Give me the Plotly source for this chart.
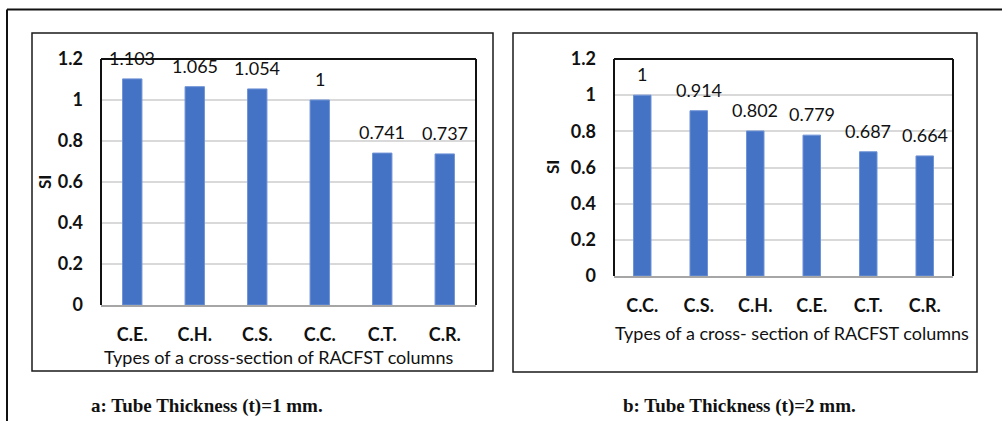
import plotly.graph_objects as go

# Strength index (SI) per cross-section type, for two tube thicknesses
sections_1mm = ["C.E.", "C.H.", "C.S.", "C.C.", "C.T.", "C.R."]
si_1mm = [1.103, 1.065, 1.054, 1, 0.741, 0.737]

sections_2mm = ["C.C.", "C.S.", "C.H.", "C.E.", "C.T.", "C.R."]
si_2mm = [1, 0.914, 0.802, 0.779, 0.687, 0.664]

y_ticks = [0, 0.2, 0.4, 0.6, 0.8, 1, 1.2]
y_tick_text = ["0", "0.2", "0.4", "0.6", "0.8", "1", "1.2"]

W, H = 1002, 421
BAR_BLUE = "#4472C4"
GRID = "#D9D9D9"
INK = "#111111"
SANS = "Lato, Carlito, Calibri, sans-serif"
SERIF = "Liberation Serif, Times New Roman, serif"


def px(x):
    return x / W


def py(y):
    return 1 - y / H


fig = go.Figure()

# panel layout in pixels: (plot left, plot right, plot top, plot bottom)
panels = [
    dict(cats=sections_1mm, vals=si_1mm, xa="x", ya="y", box=(101, 476, 59, 305)),
    dict(cats=sections_2mm, vals=si_2mm, xa="x2", ya="y2", box=(614, 953, 59, 276)),
]

for p in panels:
    fig.add_trace(go.Bar(
        x=p["cats"], y=p["vals"], xaxis=p["xa"], yaxis=p["ya"],
        marker=dict(color=BAR_BLUE, line=dict(width=1, color="#6F93D6")),
        showlegend=False, hoverinfo="x+y",
    ))
    for c, v in zip(p["cats"], p["vals"]):
        fig.add_annotation(
            x=c, y=v, xref=p["xa"], yref=p["ya"], text=f"{v:g}",
            showarrow=False, yanchor="middle", yshift=21,
            font=dict(family=SANS, size=18, color=INK),
        )

for i, p in enumerate(panels):
    l, r, t, b = p["box"]
    sfx = "" if i == 0 else "2"
    fig.update_layout(**{
        f"xaxis{sfx}": dict(
            domain=[px(l), px(r)], anchor=p["ya"], type="category",
            showline=True, linecolor="#A6A6A6", linewidth=2,
            ticks="", ticklabelstandoff=12, automargin=False,
            tickfont=dict(family=SANS, size=18, color=INK, weight="bold"),
            showgrid=False, zeroline=False, fixedrange=True,
        ),
        f"yaxis{sfx}": dict(
            domain=[py(b), py(t)], anchor=p["xa"], range=[0, 1.2],
            tickvals=y_ticks, ticktext=y_tick_text, ticks="",
            ticklabelstandoff=17, automargin=False,
            tickfont=dict(family=SANS, size=18, color=INK, weight="bold"),
            showline=False, zeroline=False, fixedrange=True,
            showgrid=True, gridcolor=GRID, gridwidth=2,
        ),
    })

shapes = []
black = dict(color="#111111", width=2)

# outer frame (top and left edges)
shapes.append(dict(type="line", xref="paper", yref="paper",
                   x0=px(7), x1=px(1002), y0=py(9.5), y1=py(9.5), line=black))
shapes.append(dict(type="line", xref="paper", yref="paper",
                   x0=px(7), x1=px(7), y0=py(9.5), y1=py(421), line=black))

# chart boxes
for (x0, y0, x1, y1) in [(32, 33, 493, 371), (513, 33, 977, 372)]:
    shapes.append(dict(type="rect", xref="paper", yref="paper",
                       x0=px(x0), x1=px(x1), y0=py(y1), y1=py(y0),
                       line=dict(color="#1a1a1a", width=1.5)))

# plot-area borders: left, top, right
for p in panels:
    l, r, t, b = p["box"]
    for (xa, ya, xb, yb) in [(l, b, l, t), (l, t, r, t), (r, t, r, b)]:
        shapes.append(dict(type="line", xref="paper", yref="paper",
                           x0=px(xa), x1=px(xb), y0=py(ya), y1=py(yb),
                           line=dict(color="#111111", width=2)))

fig.update_layout(shapes=shapes)

# axis titles and captions
texts = [
    ("SI", 44, 182, -90, dict(family=SANS, size=17, color=INK, weight="bold")),
    ("SI", 552, 167, -90, dict(family=SANS, size=17, color=INK, weight="bold")),
    ("Types of a cross-section of RACFST columns", 278, 357, 0,
     dict(family=SANS, size=18, color=INK)),
    ("Types of a cross- section of RACFST columns", 791.5, 333, 0,
     dict(family=SANS, size=18, color=INK)),
    ("a: Tube Thickness (t)=1 mm.", 206.5, 406, 0,
     dict(family=SERIF, size=19, color=INK, weight="bold")),
    ("b: Tube Thickness (t)=2 mm.", 739.5, 406, 0,
     dict(family=SERIF, size=19, color=INK, weight="bold")),
]
for txt, x, y, ang, f in texts:
    fig.add_annotation(text=txt, x=px(x), y=py(y), xref="paper", yref="paper",
                       showarrow=False, textangle=ang, font=f,
                       xanchor="center", yanchor="middle")

fig.update_layout(
    template="none",
    width=W, height=H,
    margin=dict(l=0, r=0, t=0, b=0, pad=0, autoexpand=False),
    paper_bgcolor="white", plot_bgcolor="white",
    bargap=0.69,
)

fig.write_html("out.html")
